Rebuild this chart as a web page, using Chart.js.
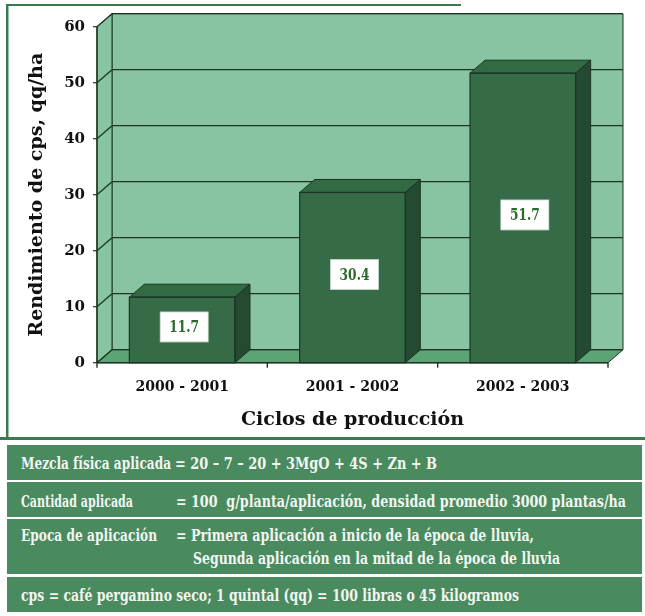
<!DOCTYPE html>
<html>
<head>
<meta charset="utf-8">
<script src="https://cdn.jsdelivr.net/npm/chart.js@4"></script>
<style>
  html, body { margin: 0; padding: 0; background: #fff; }
  #wrap { position: relative; width: 645px; height: 616px; overflow: hidden; background: #fff; }
  #c { position: absolute; left: 0; top: 0; }
  .row { position: absolute; left: 7px; width: 635px; background: #4a8a5f; }
  .t { position: absolute; white-space: pre; font-family: "DejaVu Serif Condensed", "DejaVu Serif", serif;
       font-weight: bold; font-size: 16px; line-height: 20px;
       color: #f2f6f0; transform-origin: 0 50%; }
</style>
</head>
<body>
<div id="wrap">
  <canvas id="c" width="645" height="442"></canvas>

  <div class="row" style="top:445px;height:35px"></div>
  <div class="row" style="top:482px;height:35px"></div>
  <div class="row" style="top:519px;height:55px"></div>
  <div class="row" style="top:577px;height:35px"></div>

  <span class="t" data-w="150" style="left:21px;top:454px">Mezcla física aplicada</span>
  <span class="t" data-w="262" style="left:175px;top:454px">= 20 – 7 – 20 + 3MgO + 4S + Zn + B</span>

  <span class="t" data-w="112" style="left:21px;top:492px">Cantidad aplicada</span>
  <span class="t" data-w="450" style="left:176px;top:492px">= 100  g/planta/aplicación, densidad promedio 3000 plantas/ha</span>

  <span class="t" data-w="136" style="left:21px;top:526px">Epoca de aplicación</span>
  <span class="t" data-w="358" style="left:176px;top:526px">= Primera aplicación a inicio de la época de lluvia,</span>
  <span class="t" data-w="367" style="left:193px;top:549px">Segunda aplicación en la mitad de la época de lluvia</span>

  <span class="t" data-w="498" style="left:21px;top:586px">cps = café pergamino seco; 1 quintal (qq) = 100 libras o 45 kilogramos</span>
</div>

<script>
// Production cycles and coffee yield (qq/ha of cps)
const categories = ['2000 - 2001', '2001 - 2002', '2002 - 2003'];
const yields = [11.7, 30.4, 51.7];
const yMin = 0;
const yMax = 60;
const yStep = 10;

// Palette
const WALL = '#89c4a2';
const FLOOR = '#5ca476';
const EDGE = '#1c3423';
const BAR_FRONT = '#356c47';
const BAR_TOP = '#326a44';
const BAR_SIDE = '#244b31';
const FRAME = '#3b7a50';

// Oblique depth of the box
const DX = 15;
const DY = 13;

function poly(ctx, pts, fill, stroke) {
  ctx.beginPath();
  ctx.moveTo(pts[0][0], pts[0][1]);
  for (let i = 1; i < pts.length; i++) ctx.lineTo(pts[i][0], pts[i][1]);
  ctx.closePath();
  if (fill) { ctx.fillStyle = fill; ctx.fill(); }
  if (stroke) { ctx.strokeStyle = stroke; ctx.lineWidth = 1; ctx.stroke(); }
}

function line(ctx, x1, y1, x2, y2) {
  ctx.beginPath();
  ctx.moveTo(x1, y1);
  ctx.lineTo(x2, y2);
  ctx.stroke();
}

// Outer frame around the chart
const framePlugin = {
  id: 'frame',
  beforeDraw(chart) {
    const ctx = chart.ctx;
    ctx.save();
    ctx.fillStyle = FRAME;
    ctx.fillRect(6, 4, 2.5, 436);
    ctx.fillRect(6, 4, 455, 2);
    ctx.fillRect(0, 437, 645, 3);
    ctx.restore();
  }
};

// Back wall, side wall, floor, grid lines and axis ticks
const roomPlugin = {
  id: 'room3d',
  beforeDatasetsDraw(chart) {
    const { ctx, chartArea: a, scales: { x, y } } = chart;
    const L = a.left, R = a.right, T = a.top, B = a.bottom;
    ctx.save();
    poly(ctx, [[L + DX, T - DY], [R + DX, T - DY], [R + DX, B - DY], [L + DX, B - DY]], WALL, EDGE);
    poly(ctx, [[L, T], [L + DX, T - DY], [L + DX, B - DY], [L, B]], WALL, EDGE);
    poly(ctx, [[L, B], [R, B], [R + DX, B - DY], [L + DX, B - DY]], FLOOR, EDGE);

    ctx.strokeStyle = EDGE;
    ctx.lineWidth = 1.2;
    y.ticks.forEach(t => {
      const py = y.getPixelForValue(t.value);
      line(ctx, L, py, L + DX, py - DY);
      line(ctx, L + DX, py - DY, R + DX, py - DY);
      line(ctx, L - 4, py, L, py);
    });

    // front axis lines
    ctx.lineWidth = 1.4;
    line(ctx, L, T, L, B);
    line(ctx, L, B, R, B);

    // category separators on the x axis
    const n = categories.length;
    for (let i = 0; i <= n; i++) {
      let px;
      if (i === 0) px = L;
      else if (i === n) px = R;
      else px = (x.getPixelForValue(i - 1) + x.getPixelForValue(i)) / 2;
      line(ctx, px, B, px, B + 5);
    }
    ctx.restore();
  }
};

// Top and side faces of each bar plus value boxes
const barFacesPlugin = {
  id: 'barFaces',
  afterDatasetsDraw(chart) {
    const ctx = chart.ctx;
    const meta = chart.getDatasetMeta(0);
    ctx.save();
    meta.data.forEach((bar, i) => {
      const l = bar.x - bar.width / 2;
      const r = bar.x + bar.width / 2;
      const top = bar.y;
      const base = bar.base;
      poly(ctx, [[l, top], [r, top], [r + DX, top - DY], [l + DX, top - DY]], BAR_TOP, EDGE);
      poly(ctx, [[r, top], [r + DX, top - DY], [r + DX, base - DY], [r, base]], BAR_SIDE, EDGE);
      ctx.strokeStyle = EDGE;
      ctx.lineWidth = 1.2;
      ctx.strokeRect(l, top, r - l, base - top);

      // value label box
      const cx = bar.x + 2;
      const cy = (top + base) / 2 - 3;
      ctx.fillStyle = '#ffffff';
      ctx.fillRect(cx - 24, cy - 15, 48, 30);
      ctx.strokeStyle = '#c9d6cc';
      ctx.lineWidth = 0.8;
      ctx.strokeRect(cx - 24, cy - 15, 48, 30);

      ctx.save();
      ctx.translate(cx, cy + 1);
      ctx.scale(0.72, 1);
      ctx.font = 'bold 17px "DejaVu Serif", serif';
      ctx.fillStyle = '#2b6a2b';
      ctx.textAlign = 'center';
      ctx.textBaseline = 'middle';
      ctx.fillText(yields[i].toFixed(1), 0, 0);
      ctx.restore();
    });
    ctx.restore();
  }
};

new Chart(document.getElementById('c'), {
  type: 'bar',
  data: {
    labels: categories,
    datasets: [{
      data: yields,
      backgroundColor: BAR_FRONT,
      borderWidth: 0,
      categoryPercentage: 1,
      barPercentage: 0.62
    }]
  },
  options: {
    responsive: false,
    animation: false,
    devicePixelRatio: 1,
    layout: { padding: { left: 10, top: 26.7, right: 37, bottom: 5 } },
    plugins: { legend: { display: false }, tooltip: { enabled: false } },
    scales: {
      x: {
        grid: { display: false, drawTicks: false },
        border: { display: false },
        ticks: {
          color: '#111',
          padding: 16,
          font: { family: 'DejaVu Serif', weight: 'bold', size: 14 }
        },
        title: {
          display: true,
          text: 'Ciclos de producción',
          color: '#111',
          padding: { top: 0, bottom: 6 },
          font: { family: 'DejaVu Serif', weight: 'bold', size: 19 }
        },
        afterFit(s) { s.height = 74.3; }
      },
      y: {
        min: yMin,
        max: yMax,
        grid: { display: false, drawTicks: false },
        border: { display: false },
        ticks: {
          stepSize: yStep,
          color: '#111',
          padding: 12,
          font: { family: 'DejaVu Serif', weight: 'bold', size: 15 }
        },
        title: {
          display: true,
          text: 'Rendimiento de cps, qq/ha',
          color: '#111',
          padding: { top: 15.6, bottom: 0 },
          font: { family: 'DejaVu Serif', weight: 'bold', size: 19 }
        },
        afterFit(s) { s.width = 87; }
      }
    }
  },
  plugins: [framePlugin, roomPlugin, barFacesPlugin]
});

// Condense the table captions to their column widths
function fitCaptions() {
  document.querySelectorAll('.t').forEach(el => {
    el.style.transform = 'none';
    const natural = el.getBoundingClientRect().width;
    const target = parseFloat(el.dataset.w);
    if (natural > 0) el.style.transform = 'scaleX(' + (target / natural) + ')';
  });
}
fitCaptions();
if (document.fonts && document.fonts.ready) document.fonts.ready.then(fitCaptions);
</script>
</body>
</html>
